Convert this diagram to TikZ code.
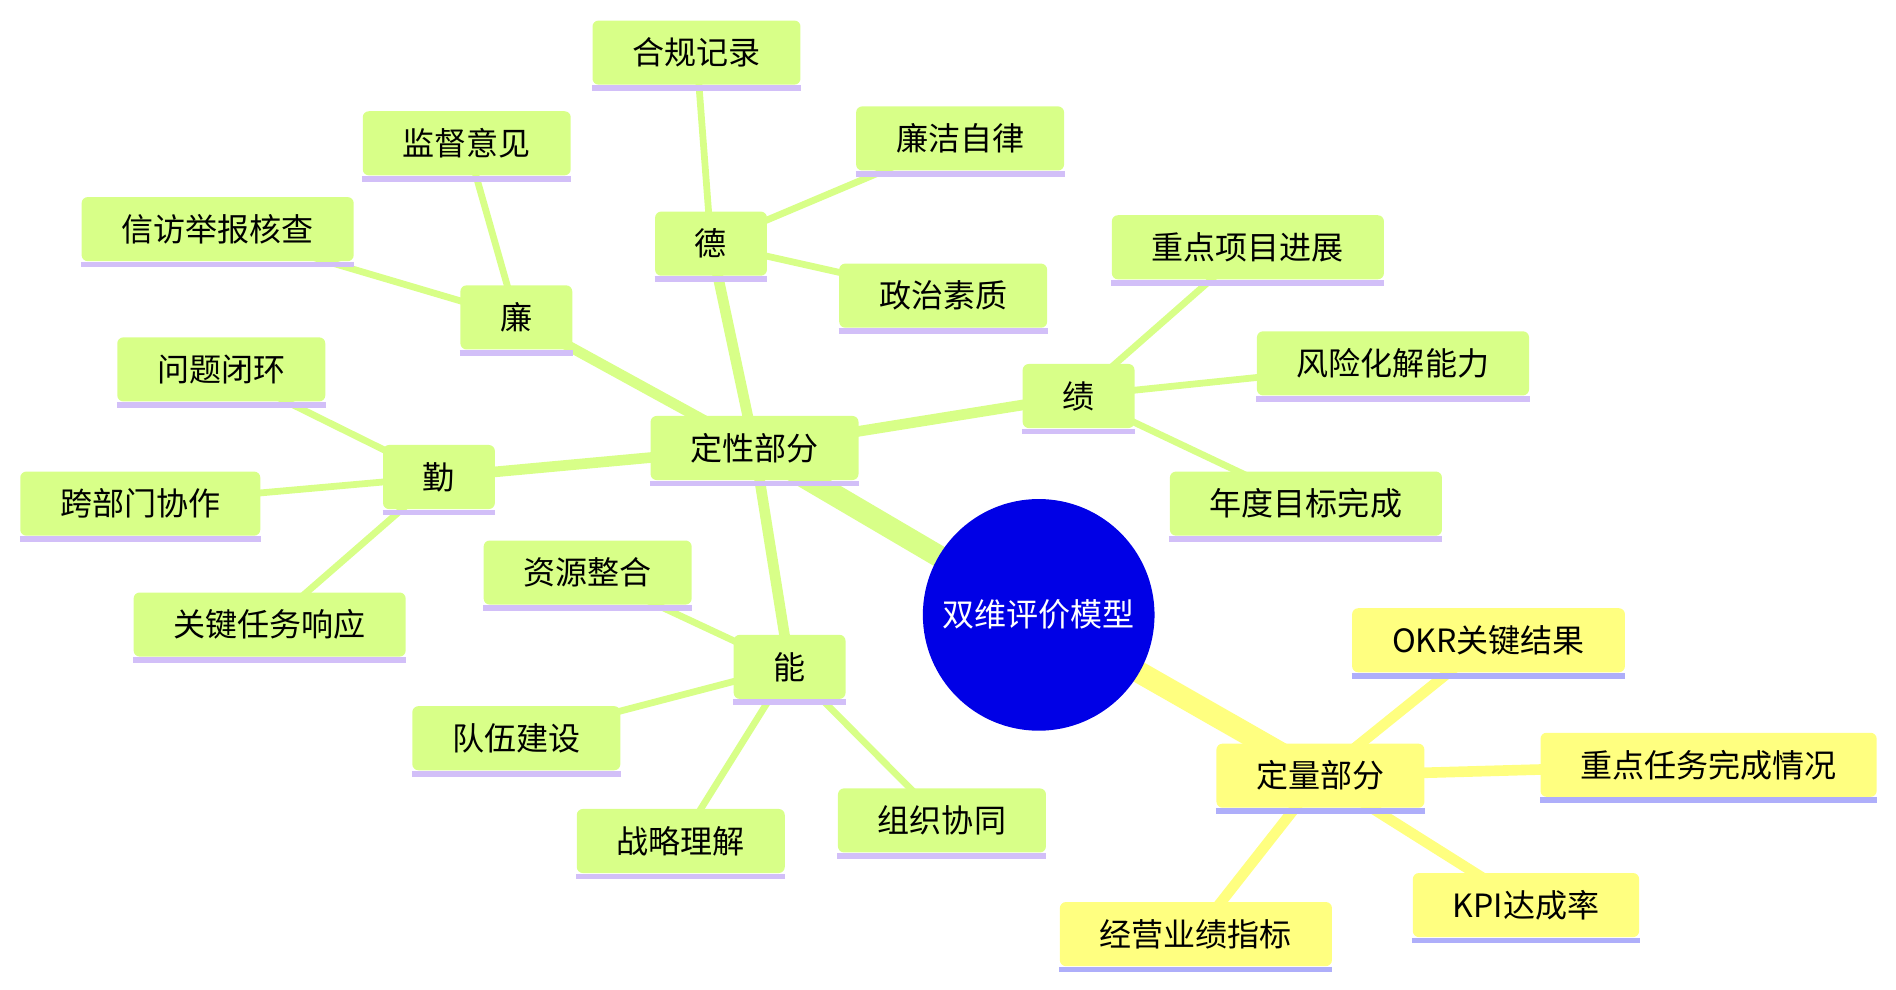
\documentclass[tikz,border=0pt]{standalone}
\usepackage{fontspec}
\setmainfont{Noto Sans CJK SC}
\usetikzlibrary{backgrounds}
\definecolor{gfill}{HTML}{D8FF88}
\definecolor{gline}{HTML}{D2BFF8}
\definecolor{yfill}{HTML}{FFFF80}
\definecolor{yline}{HTML}{AEAEFA}
\definecolor{rootblue}{HTML}{0000E6}
\tikzset{
  gbox/.style={fill=gfill, rounded corners=2.5pt, inner xsep=16.5pt, inner ysep=0pt, minimum height=26.5pt, font=\fontsize{13.25pt}{15pt}\selectfont, text=black},
  ybox/.style={gbox, fill=yfill},
  gul/.style={draw=gline, line width=2.4pt},
  yul/.style={draw=yline, line width=2.4pt},
  rootnode/.style={circle, fill=rootblue, minimum size=95.8pt, inner sep=0pt, text=white, font=\fontsize{13.25pt}{15pt}\selectfont},
  ezero/.style={line width=9pt},
  eone/.style={line width=4.4pt},
  etwo/.style={line width=2.8pt},
  gedge/.style={draw=gfill},
  yedge/.style={draw=yfill},
}
\newcommand\mmbox[4]{%
  \node[#1box] (#2) at (#3) {#4};
  \draw[#1ul] ([yshift=-1.2pt]#2.south west) -- ([yshift=-1.2pt]#2.south east);
}
\begin{document}
\begin{tikzpicture}[x=0.5pt, y=-0.5pt]
\useasboundingbox (0,0) rectangle (1568,818);
\node[rootnode] (root) at (859,508.5) {双维评价模型};
\mmbox{g}{qual}{624,370.5}{定性部分}
\mmbox{y}{quan}{1092,641.5}{定量部分}
\mmbox{g}{de}{588,201.5}{德}
\mmbox{g}{lian}{427,262.5}{廉}
\mmbox{g}{qin}{363,394.5}{勤}
\mmbox{g}{neng}{653,551.5}{能}
\mmbox{g}{ji}{892,327.5}{绩}
\mmbox{g}{hegui}{576,43.5}{合规记录}
\mmbox{g}{lianjie}{794,114.5}{廉洁自律}
\mmbox{g}{zhengzhi}{780,244.5}{政治素质}
\mmbox{g}{jiandu}{386,118.5}{监督意见}
\mmbox{g}{xinfang}{180,189.5}{信访举报核查}
\mmbox{g}{wenti}{183,305.5}{问题闭环}
\mmbox{g}{kuabu}{116,416.5}{跨部门协作}
\mmbox{g}{guanjian}{223,516.5}{关键任务响应}
\mmbox{g}{ziyuan}{486,473.5}{资源整合}
\mmbox{g}{duiwu}{427,610.5}{队伍建设}
\mmbox{g}{zhanlue}{563,695.5}{战略理解}
\mmbox{g}{zuzhi}{779,678.5}{组织协同}
\mmbox{g}{zhongdian}{1032,204.5}{重点项目进展}
\mmbox{g}{fengxian}{1152,300.5}{风险化解能力}
\mmbox{g}{niandu}{1080,416.5}{年度目标完成}
\mmbox{y}{okr}{1231,529.5}{OKR关键结果}
\mmbox{y}{zdrw}{1413,632.5}{重点任务完成情况}
\mmbox{y}{kpi}{1262,748.5}{KPI达成率}
\mmbox{y}{jingying}{989,772.5}{经营业绩指标}
\begin{pgfonlayer}{background}
\draw[gedge, ezero] (root.center) -- (qual.center);
\draw[yedge, ezero] (root.center) -- (quan.center);
\foreach \c in {de,lian,qin,neng,ji}
  \draw[gedge, eone] (qual.center) -- (\c.center);
\foreach \c in {okr,zdrw,kpi,jingying}
  \draw[yedge, eone] (quan.center) -- (\c.center);
\foreach \c in {hegui,lianjie,zhengzhi}
  \draw[gedge, etwo] (de.center) -- (\c.center);
\foreach \c in {jiandu,xinfang}
  \draw[gedge, etwo] (lian.center) -- (\c.center);
\foreach \c in {wenti,kuabu,guanjian}
  \draw[gedge, etwo] (qin.center) -- (\c.center);
\foreach \c in {ziyuan,duiwu,zhanlue,zuzhi}
  \draw[gedge, etwo] (neng.center) -- (\c.center);
\foreach \c in {zhongdian,fengxian,niandu}
  \draw[gedge, etwo] (ji.center) -- (\c.center);
\end{pgfonlayer}
\end{tikzpicture}
\end{document}
